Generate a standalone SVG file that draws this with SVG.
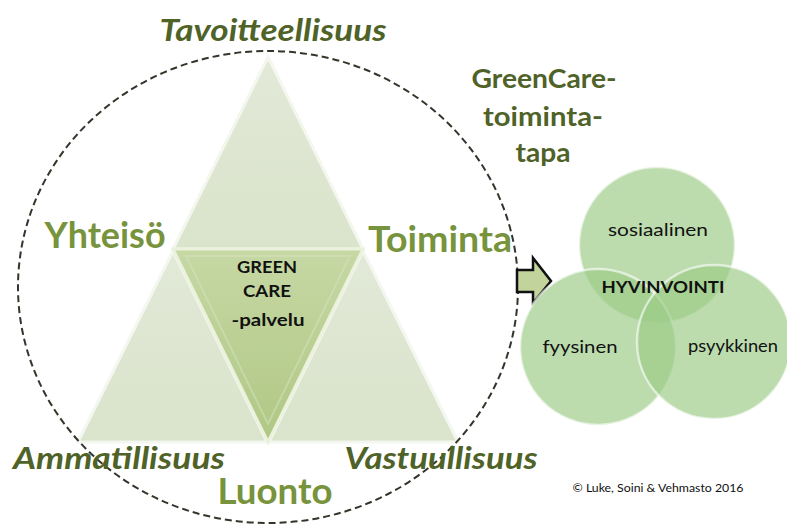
<svg xmlns="http://www.w3.org/2000/svg" width="787" height="525" viewBox="0 0 787 525">
<defs>
<style>
.lbl{font-family:Lato,"Open Sans","Liberation Sans",sans-serif;font-weight:bold;text-anchor:middle}
.it{font-style:italic;fill:#4f6228;font-size:30px}
.lt{fill:#77933c;font-size:36px}
.dk{fill:#4f6228;font-size:26px}
.in{font-family:Lato,"Open Sans","Liberation Sans",sans-serif;text-anchor:middle;fill:#111}
.corner{fill:url(#gCorner);stroke:#f4f7ef;stroke-width:3;stroke-linejoin:miter}
.circ{fill:#9bcb86;fill-opacity:0.67;stroke:#ffffff;stroke-opacity:0.6;stroke-width:2.5}
</style>
<linearGradient id="gCorner" x1="0" y1="0" x2="0" y2="1">
<stop offset="0" stop-color="#e2e9d8"/>
<stop offset="1" stop-color="#dae3cb"/>
</linearGradient>
<linearGradient id="gCenter" x1="0" y1="0" x2="0" y2="1">
<stop offset="0" stop-color="#c6d8a4"/>
<stop offset="1" stop-color="#b0c784"/>
</linearGradient>
</defs>
<rect width="787" height="525" fill="#ffffff"/>

<g id="triangles">
<polygon id="tri-top" class="corner" points="268,57 173,249 363,249"/>
<polygon id="tri-left" class="corner" points="173,251 78,442 267,442"/>
<polygon id="tri-right" class="corner" points="363,251 269,442 458,442"/>
<g id="tri-center">
<polygon points="173,249 363,249 268,442" fill="url(#gCenter)" stroke="#eaf1dc" stroke-width="3"/>
<polygon points="186,256 350,256 268,424" fill="none" stroke="#d6e4bd" stroke-width="2" opacity="0.5"/>
<text class="in" x="267" y="273" font-size="17" font-weight="bold" textLength="60" lengthAdjust="spacingAndGlyphs">GREEN</text>
<text class="in" x="267" y="297" font-size="17" font-weight="bold" textLength="48" lengthAdjust="spacingAndGlyphs">CARE</text>
<text class="in" x="268" y="326" font-size="17" font-weight="bold" textLength="73" lengthAdjust="spacingAndGlyphs">-palvelu</text>
</g>
</g>

<g id="boundary">
<ellipse cx="268" cy="287" rx="250" ry="236" fill="none" stroke="#33352a" stroke-width="2" stroke-dasharray="7 4"/>
</g>

<g id="labels">
<text class="lbl it" x="273" y="41" textLength="227" lengthAdjust="spacingAndGlyphs">Tavoitteellisuus</text>
<text class="lbl lt" x="105" y="248" textLength="121" lengthAdjust="spacingAndGlyphs">Yhteisö</text>
<text class="lbl lt" x="440" y="252" textLength="144" lengthAdjust="spacingAndGlyphs">Toiminta</text>
<text class="lbl it" x="119" y="469" textLength="212" lengthAdjust="spacingAndGlyphs">Ammatillisuus</text>
<text class="lbl it" x="441" y="469" textLength="193" lengthAdjust="spacingAndGlyphs">Vastuullisuus</text>
<text class="lbl lt" x="275" y="504" textLength="115" lengthAdjust="spacingAndGlyphs">Luonto</text>
</g>

<g id="title">
<text class="lbl dk" x="544" y="88" textLength="145" lengthAdjust="spacingAndGlyphs">GreenCare-</text>
<text class="lbl dk" x="543" y="126" textLength="120" lengthAdjust="spacingAndGlyphs">toiminta-</text>
<text class="lbl dk" x="543" y="162" textLength="55" lengthAdjust="spacingAndGlyphs">tapa</text>
</g>

<g id="connectors">
<polygon points="517,270 533,270 533,258 551,281 533,303 533,292 517,292" fill="#c2d39c" stroke="#111" stroke-width="2.5" stroke-linejoin="miter"/>
</g>

<g id="wellbeing">
<circle id="c-sos" class="circ" cx="657" cy="245" r="78"/>
<circle id="c-fyy" class="circ" cx="598" cy="347" r="78"/>
<circle id="c-psy" class="circ" cx="714" cy="342" r="77"/>
<text class="in" x="658" y="236" font-size="18" textLength="100" lengthAdjust="spacingAndGlyphs">sosiaalinen</text>
<text class="in" x="663" y="293" font-size="17" font-weight="bold" textLength="123" lengthAdjust="spacingAndGlyphs">HYVINVOINTI</text>
<text class="in" x="580" y="353" font-size="18" textLength="75" lengthAdjust="spacingAndGlyphs">fyysinen</text>
<text class="in" x="733" y="352" font-size="18" textLength="90" lengthAdjust="spacingAndGlyphs">psyykkinen</text>
</g>

<g id="credit">
<text class="in" x="658" y="492" font-size="12" fill="#222" textLength="171" lengthAdjust="spacingAndGlyphs">© Luke, Soini &amp; Vehmasto 2016</text>
</g>
</svg>
